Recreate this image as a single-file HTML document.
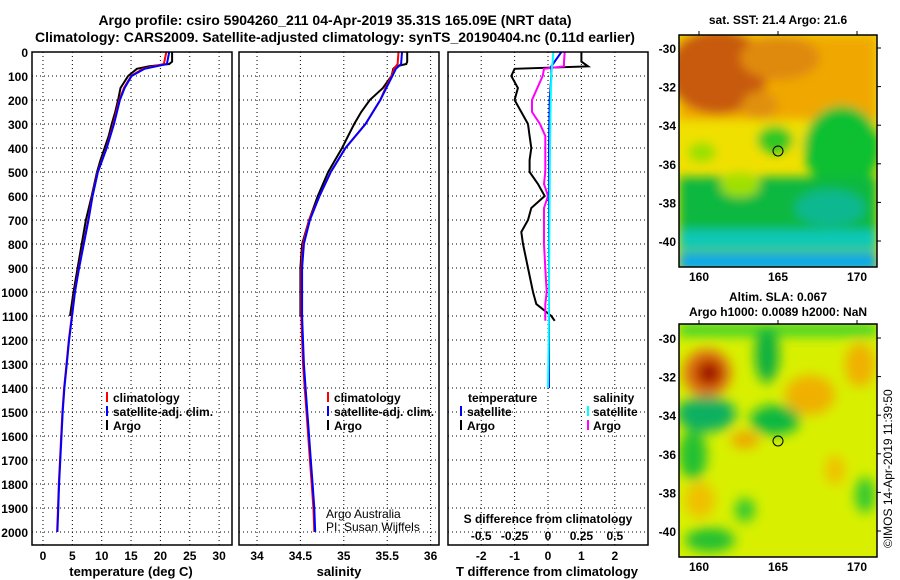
<!DOCTYPE html>
<html><head><meta charset="utf-8"><style>
html,body{margin:0;padding:0;background:#fff;}
svg{display:block;font-family:"Liberation Sans",sans-serif;font-weight:bold;}
</style></head><body>
<svg id="fig" width="900" height="580" viewBox="0 0 900 580" xmlns="http://www.w3.org/2000/svg">
<defs>
<filter id="blur1" x="-20%" y="-20%" width="140%" height="140%"><feGaussianBlur stdDeviation="5"/></filter>
<filter id="blur2" x="-20%" y="-20%" width="140%" height="140%"><feGaussianBlur stdDeviation="6"/></filter>
<clipPath id="clipMap1"><rect x="679" y="35" width="198" height="232"/></clipPath>
<clipPath id="clipMap2"><rect x="679" y="324" width="198" height="233"/></clipPath>
<clipPath id="clipP1"><rect x="32" y="52" width="200" height="493"/></clipPath>
<clipPath id="clipP2"><rect x="239" y="52" width="200" height="493"/></clipPath>
<clipPath id="clipP3"><rect x="448" y="52" width="200" height="493"/></clipPath>
</defs>
<text x="335" y="25" font-size="14" text-anchor="middle">Argo profile: csiro 5904260_211 04-Apr-2019 35.31S 165.09E (NRT data)</text>
<text x="335" y="42" font-size="14" text-anchor="middle">Climatology: CARS2009. Satellite-adjusted climatology: synTS_20190404.nc (0.11d earlier)</text>
<g id="grids"></g>
<g id="marks"></g>
<g id="axes"></g>

<!-- SST map -->
<g clip-path="url(#clipMap1)">
<rect x="679" y="35" width="198" height="232" fill="#f0e000"/>
<g filter="url(#blur1)">
<rect x="679" y="35" width="198" height="85" fill="#f0a800"/>
<ellipse cx="718" cy="72" rx="50" ry="42" fill="#c85a10"/>
<ellipse cx="780" cy="58" rx="40" ry="22" fill="#e08a10"/>
<ellipse cx="760" cy="105" rx="18" ry="14" fill="#e09010"/>
<rect x="679" y="120" width="198" height="32" fill="#f0e000"/>
<ellipse cx="842" cy="148" rx="38" ry="42" fill="#10c030"/>
<ellipse cx="775" cy="140" rx="18" ry="14" fill="#30c820"/>
<ellipse cx="702" cy="152" rx="14" ry="10" fill="#9ae000"/>
<rect x="679" y="177" width="198" height="55" fill="#10b840"/>
<ellipse cx="740" cy="185" rx="20" ry="12" fill="#a0e000"/>
<ellipse cx="830" cy="208" rx="35" ry="18" fill="#10b890"/>
<rect x="679" y="230" width="198" height="20" fill="#10c8b8"/>
<rect x="679" y="252" width="198" height="20" fill="#10a8e8"/>
</g>
</g>
<rect x="679" y="35" width="198" height="232" fill="none" stroke="#000" stroke-width="1.5"/>
<circle cx="778" cy="151" r="5" fill="none" stroke="#000"/>
<text x="778" y="24" font-size="12" text-anchor="middle">sat. SST: 21.4 Argo: 21.6</text>

<!-- SLA map -->
<g clip-path="url(#clipMap2)">
<rect x="679" y="324" width="198" height="233" fill="#d8f000"/>
<g filter="url(#blur2)">
<rect x="679" y="324" width="198" height="12" fill="#30d030"/>
<ellipse cx="707" cy="373" rx="24" ry="24" fill="#e07010"/>
<ellipse cx="709" cy="373" rx="13" ry="13" fill="#a01000"/>
<ellipse cx="706" cy="414" rx="30" ry="18" fill="#10b060"/>
<ellipse cx="693" cy="455" rx="14" ry="25" fill="#20c030"/>
<ellipse cx="767" cy="355" rx="12" ry="28" fill="#10b040"/>
<ellipse cx="775" cy="420" rx="25" ry="15" fill="#10b840"/>
<ellipse cx="745" cy="440" rx="14" ry="8" fill="#f0a000"/>
<ellipse cx="810" cy="395" rx="25" ry="20" fill="#f0b000"/>
<ellipse cx="860" cy="365" rx="15" ry="22" fill="#f0b000"/>
<ellipse cx="835" cy="470" rx="10" ry="15" fill="#f0c000"/>
<ellipse cx="700" cy="500" rx="15" ry="18" fill="#f0c000"/>
<ellipse cx="710" cy="540" rx="25" ry="12" fill="#20c030"/>
<ellipse cx="745" cy="510" rx="10" ry="12" fill="#30c830"/>
<ellipse cx="865" cy="495" rx="10" ry="18" fill="#30c830"/>
</g>
</g>
<rect x="679" y="324" width="198" height="233" fill="none" stroke="#000" stroke-width="1.5"/>
<circle cx="778" cy="441" r="5" fill="none" stroke="#000"/>
<text x="778" y="301" font-size="12" text-anchor="middle">Altim. SLA: 0.067</text>
<text x="778" y="316" font-size="12" text-anchor="middle">Argo h1000: 0.0089 h2000: NaN</text>
<text transform="translate(892,548) rotate(-90)" font-size="12" font-weight="normal">©IMOS 14-Apr-2019 11:39:50</text>

<!-- legends -->
<g font-size="12">
<rect x="106" y="392" width="2" height="10" fill="#f00"/><text x="113" y="402">climatology</text>
<rect x="106" y="406" width="2" height="10" fill="#00f"/><text x="113" y="416">satellite-adj. clim.</text>
<rect x="106" y="420" width="2" height="10" fill="#000"/><text x="113" y="430">Argo</text>
</g>
<g font-size="12">
<rect x="327" y="392" width="2" height="10" fill="#f00"/><text x="334" y="402">climatology</text>
<rect x="327" y="406" width="2" height="10" fill="#00f"/><text x="334" y="416">satellite-adj. clim.</text>
<rect x="327" y="420" width="2" height="10" fill="#000"/><text x="334" y="430">Argo</text>
</g>
<g font-size="12" font-weight="normal">
<text x="326" y="518">Argo Australia</text><text x="326" y="531">PI: Susan Wijffels</text>
</g>
<g font-size="12">
<text x="468" y="402">temperature</text>
<rect x="460" y="406" width="2" height="10" fill="#00f"/><text x="467" y="416">satellite</text>
<rect x="460" y="420" width="2" height="10" fill="#000"/><text x="467" y="430">Argo</text>
<text x="593" y="402">salinity</text>
<rect x="587" y="406" width="2" height="10" fill="#0ff"/><text x="593" y="416">satellite</text>
<rect x="587" y="420" width="2" height="10" fill="#f0f"/><text x="593" y="430">Argo</text>
<text x="548" y="523" text-anchor="middle">S difference from climatology</text>
</g>
</svg>
<script>
// ---- data ----
const depthTicks=[0,100,200,300,400,500,600,700,800,900,1000,1100,1200,1300,1400,1500,1600,1700,1800,1900,2000];
const tempTicks=[0,5,10,15,20,25,30];
const salTicks=[34,34.5,35,35.5,36];
const tdiffTicks=[-2,-1,0,1,2];
const sdiffTicks=[-0.5,-0.25,0,0.25,0.5];
const argoDepth=[0,40,50,60,70,100,150,200,250,300,350,400,450,500,600,700,800,900,1000,1100];
const argoTemp=[22,22,21.5,18,16,14.5,13.2,12.8,12.3,11.7,11.2,10.5,9.8,9.2,8.3,7.3,6.6,5.9,5.2,4.6];
const argoSal=[35.73,35.73,35.72,35.6,35.57,35.55,35.45,35.3,35.2,35.12,35.05,34.98,34.9,34.82,34.7,34.6,34.52,34.5,34.5,34.5];
const climDepth=[0,50,70,100,150,200,300,400,500,600,700,800,900,1000,1100,1200,1300,1400,1500,1600,1700,1800,1900,2000];
const climTemp=[21,20.6,17,15,13.8,13,12,10.8,9.3,8.4,7.7,6.9,6.1,5.4,4.9,4.4,4.0,3.6,3.3,3.1,2.9,2.7,2.55,2.4];
const satTemp=[21.5,21.1,17.3,15.1,13.9,13.1,12.1,10.85,9.35,8.45,7.75,6.95,6.15,5.45,4.95,4.45,4.05,3.65,3.35,3.15,2.95,2.75,2.6,2.45];
const climSal=[35.63,35.62,35.58,35.55,35.48,35.42,35.25,35.02,34.85,34.72,34.6,34.53,34.51,34.51,34.51,34.52,34.53,34.55,34.57,34.59,34.61,34.63,34.65,34.66];
const satSal=[35.67,35.66,35.6,35.56,35.49,35.42,35.25,35.02,34.85,34.72,34.61,34.54,34.52,34.52,34.52,34.53,34.54,34.56,34.58,34.6,34.62,34.64,34.66,34.67];
const diffDepth=[0,40,60,70,100,150,200,250,300,350,400,450,500,550,600,650,700,750,800,900,1000,1050,1100,1120];
const argoTdiff=[1.0,1.0,1.2,-1.0,-1.1,-0.9,-1.0,-0.8,-0.6,-0.55,-0.5,-0.55,-0.55,-0.3,-0.1,-0.5,-0.6,-0.8,-0.75,-0.6,-0.45,-0.35,0.1,0.2];
const argoSdiff=[0.125,0.12,0.12,-0.03,-0.04,-0.08,-0.12,-0.12,-0.06,-0.02,-0.02,-0.02,-0.02,-0.03,0,-0.03,-0.03,-0.03,-0.03,-0.02,-0.01,-0.02,-0.02,-0.02];
const satDiffDepth=[0,40,60,100,200,400,800,1200,1400];
const satTdiff=[0.4,0.2,0.1,0.1,0.05,0.03,0.03,0.03,0.03];
const satSdiff=[0.04,0.035,0.03,0.025,0.02,0.015,0.01,0.005,0.0];
const latTicks=[-30,-32,-34,-36,-38,-40];
const lonTicks=[160,165,170];

// ---- scales ----
const NS="http://www.w3.org/2000/svg";
const yD=d=>52+d*0.24;
const xT=t=>43+t*5.87;
const xS=s=>257+(s-34)*86.8;
const xTd=t=>548+t*33.4;
const xSd=s=>548+s*4*33.4;
const yLat1=l=>48+(-30-l)*19.3, yLat2=l=>338+(-30-l)*19.3;
const xLon=l=>699+(l-160)*15.8;
const grids=document.getElementById('grids'),marks=document.getElementById('marks'),axes=document.getElementById('axes');
function mk(tag,attrs,parent){const e=document.createElementNS(NS,tag);for(const k in attrs)e.setAttribute(k,attrs[k]);parent.appendChild(e);return e;}
function txt(x,y,s,anchor,parent,size){const t=mk('text',{x:x,y:y,'font-size':size||12,'text-anchor':anchor},parent);t.textContent=s;return t;}
const panels=[{x0:32,x1:232,clip:'clipP1'},{x0:239,x1:439,clip:'clipP2'},{x0:448,x1:648,clip:'clipP3'}];
panels.forEach((p,i)=>{
  depthTicks.forEach(d=>{
    const l=mk('line',{x1:p.x0,x2:p.x1,y1:yD(d),y2:yD(d),stroke:'#000','stroke-width':1,'stroke-dasharray':'1,3'},grids);
    
    
  });
  const r=mk('rect',{x:p.x0,y:52,width:p.x1-p.x0,height:493,fill:'none',stroke:'#000','stroke-width':1.5},axes);
  
  
});
depthTicks.forEach(d=>{const t=txt(28,yD(d)+5,String(d),'end',axes);
  
  });
function vgrid(ticks,fx,labY){ticks.forEach(v=>{
  const l=mk('line',{x1:fx(v),x2:fx(v),y1:52,y2:545,stroke:'#000','stroke-dasharray':'1,3'},grids);
  
  
  const t=txt(fx(v),labY,String(v),'middle',axes);
  
  });}
vgrid(tempTicks,xT,560);vgrid(salTicks,xS,560);vgrid(tdiffTicks,xTd,560);
sdiffTicks.forEach(v=>{const t=txt(xSd(v),540,String(v),'middle',axes);
  
  });
[['temperature (deg C)',131,'temp-axis-title'],['salinity',339,'salinity-axis-title'],['T difference from climatology',547,'tdiff-axis-title']].forEach(a=>{
  const t=txt(a[1],576,a[0],'middle',axes,13);
  
  });
function line(xs,ds,fx,color,w,clip,name){
  const pts=xs.map((v,i)=>fx(v).toFixed(1)+','+yD(ds[i]).toFixed(1)).join(' ');
  const p=mk('polyline',{points:pts,fill:'none',stroke:color,'stroke-width':w,'clip-path':'url(#'+clip+')'},marks);
  
  
}
line(argoTemp,argoDepth,xT,'#000',2,'clipP1','argo-temp-line');
line(climTemp,climDepth,xT,'#f00',2,'clipP1','clim-temp-line');
line(satTemp,climDepth,xT,'#00f',2,'clipP1','sat-temp-line');
line(argoSal,argoDepth,xS,'#000',2,'clipP2','argo-sal-line');
line(climSal,climDepth,xS,'#f00',2,'clipP2','clim-sal-line');
line(satSal,climDepth,xS,'#00f',2,'clipP2','sat-sal-line');
line(argoTdiff,diffDepth,xTd,'#000',2,'clipP3','argo-tdiff-line');
line(argoSdiff,diffDepth,xSd,'#f0f',2,'clipP3','argo-sdiff-line');
line(satTdiff,satDiffDepth,xTd,'#00f',2,'clipP3','sat-tdiff-line');
line(satSdiff,satDiffDepth,xSd,'#0ff',2,'clipP3','sat-sdiff-line');
// map axes
latTicks.forEach(l=>{
  [[yLat1,'sst'],[yLat2,'sla']].forEach(m=>{
    const t=txt(676,m[0](l)+5,String(l),'end',axes);
    
    
    mk('line',{x1:877,x2:881,y1:m[0](l),y2:m[0](l),stroke:'#000'},axes);
  });
});
lonTicks.forEach(l=>{
  [[281,267,'sst'],[571,557,'sla']].forEach(m=>{
    const t=txt(xLon(l),m[0],String(l),'middle',axes);
    
    
  });
  mk('line',{x1:xLon(l),x2:xLon(l),y1:31,y2:35,stroke:'#000'},axes);
  mk('line',{x1:xLon(l),x2:xLon(l),y1:320,y2:324,stroke:'#000'},axes);
});
</script>
</body></html>
